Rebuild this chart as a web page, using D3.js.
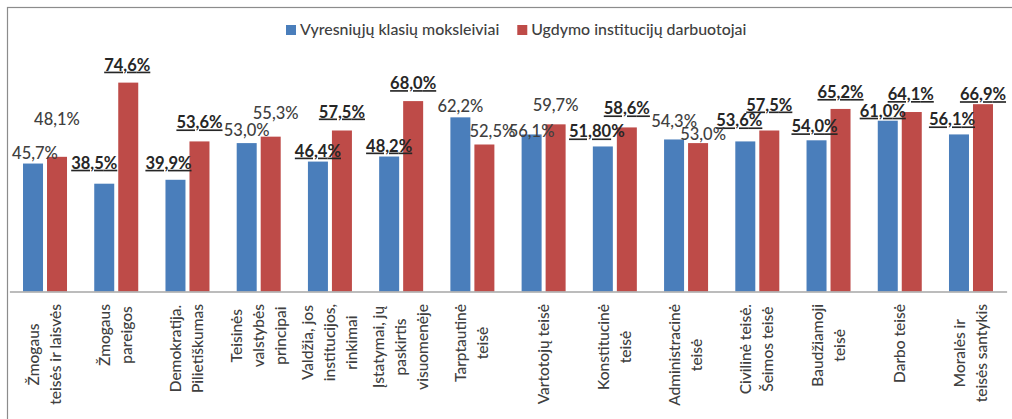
<!DOCTYPE html>
<html>
<head>
<meta charset="utf-8">
<script src="https://cdn.jsdelivr.net/npm/d3@7"></script>
<style>
  body { margin: 0; background: #fff; }
  svg { display: block; font-family: Lato, "Open Sans", sans-serif; }
</style>
</head>
<body>
<svg width="1012" height="419"></svg>
<script>
// categories (line breaks as in the original axis)
const categories = [
  "Žmogaus\nteisės ir laisvės",
  "Žmogaus\npareigos",
  "Demokratija.\nPilietiškumas",
  "Teisinės\nvalstybės\nprincipai",
  "Valdžia, jos\ninstitucijos,\nrinkimai",
  "Įstatymai, jų\npaskirtis\nvisuomenėje",
  "Tarptautinė\nteisė",
  "Vartotojų teisė",
  "Konstitucinė\nteisė",
  "Administracinė\nteisė",
  "Civilinė teisė.\nŠeimos teisė",
  "Baudžiamoji\nteisė",
  "Darbo teisė",
  "Moralės ir\nteisės santykis"
]
const seriesNames = ["Vyresniųjų klasių moksleiviai", "Ugdymo institucijų darbuotojai"]
const students = [45.7, 38.5, 39.9, 53.0, 46.4, 48.2, 62.2, 56.1, 51.8, 54.3, 53.6, 54.0, 61.0, 56.1]
const staff = [48.1, 74.6, 53.6, 55.3, 57.5, 68.0, 52.5, 59.7, 58.6, 53.0, 57.5, 65.2, 64.1, 66.9]
const studentLabels = ["45,7%", "38,5%", "39,9%", "53,0%", "46,4%", "48,2%", "62,2%", "56,1%", "51,80%", "54,3%", "53,6%", "54,0%", "61,0%", "56,1%"]
const staffLabels = ["48,1%", "74,6%", "53,6%", "55,3%", "57,5%", "68,0%", "52,5%", "59,7%", "58,6%", "53,0%", "57,5%", "65,2%", "64,1%", "66,9%"]
// categories whose labels are bold + underlined
const highlighted = [false, true, true, false, true, true, false, false, true, false, true, true, true, true]

// hand-moved data labels: [dx, baseline relative to bar top]
const studentNudge = [[2, -5], [-10, -15], [-7, -11], [0, -7], [0, -5], [0, -5], [0, -5], [0, 3], [-6, -9], [0, -12], [-6, -15], [-2, -8], [-5, -4], [-7, -9]]
const staffNudge = [[0, -32], [-1, -12], [0, -13], [5, -18], [0, -13], [0, -12], [8, -8], [0, -13], [0, -13], [5, -3], [0, -20], [0, -11], [-1, -12], [0, -4]]

const colors = ["#4A7EBB", "#BE4B48"]
const baseY = 291.5

const svg = d3.select("svg")

// outer chart frame
svg.append("rect")
  .attr("x", 7.5).attr("y", 7.5)
  .attr("width", 1100).attr("height", 500)
  .attr("fill", "none").attr("stroke", "#8c8c8c").attr("stroke-width", 1.2)

const x = d3.scaleBand()
  .domain(d3.range(categories.length))
  .range([9.4, 1006.6])

const xs = d3.scaleBand()
  .domain([0, 1])
  .range([-22, 22])
  .paddingInner(1 / 6)

const y = d3.scaleLinear()
  .domain([0, 100])
  .range([baseY, baseY - 280])

const center = i => x(i) + x.bandwidth() / 2

const seriesData = [students, staff]
const seriesLabels = [studentLabels, staffLabels]
const nudges = [studentNudge, staffNudge]

seriesData.forEach((vals, s) => {
  svg.append("g")
    .selectAll("rect")
    .data(vals)
    .join("rect")
    .attr("x", (d, i) => center(i) + xs(s))
    .attr("width", xs.bandwidth())
    .attr("y", d => y(d))
    .attr("height", d => y(0) - y(d))
    .attr("fill", colors[s])
})

// x axis line, no ticks
svg.append("g")
  .attr("transform", `translate(0,${baseY})`)
  .call(d3.axisBottom(x).tickSize(0).tickFormat(""))
  .call(g => g.select(".domain").attr("stroke", "#a6a6a6").attr("stroke-width", 1.3))

// data labels
seriesData.forEach((vals, s) => {
  const g = svg.append("g")
  vals.forEach((v, i) => {
    const [dx, dy] = nudges[s][i]
    const bold = highlighted[i]
    const label = seriesLabels[s][i]
    const t = g.append("text")
      .attr("x", center(i) + xs(s) + xs.bandwidth() / 2 + dx)
      .attr("y", y(v) + dy)
      .attr("text-anchor", "middle")
      .attr("font-size", 16.5)
      .attr("font-weight", bold ? 700 : 500)
      .attr("fill", bold ? "#262626" : "#404040")
    if (bold) {
      const num = label.replace("%", "")
      t.append("tspan").text(num).style("text-decoration", "underline")
      t.append("tspan").text("%")
        .style("text-decoration", label === "51,80%" ? "none" : "underline")
    } else {
      t.text(label)
    }
  })
})

// category labels, rotated, anchored just under the axis
const topY = 304, lineGap = 22
categories.forEach((c, i) => {
  const lines = c.split("\n")
  const g = svg.append("g")
  const texts = lines.map(ln => g.append("text")
    .attr("font-size", 15.5)
    .attr("font-weight", 500)
    .attr("fill", "#404040")
    .attr("text-anchor", "middle")
    .text(ln))
  const maxLen = d3.max(texts, t => t.node().getComputedTextLength())
  texts.forEach((t, j) => {
    const lx = center(i) + (j - (lines.length - 1) / 2) * lineGap + 5
    t.attr("transform", `translate(${lx},${topY + maxLen / 2}) rotate(-90)`)
  })
})

// legend
const legend = svg.append("g").attr("transform", "translate(286,0)")
let lx = 0
seriesNames.forEach((n, s) => {
  legend.append("rect")
    .attr("x", lx).attr("y", 25)
    .attr("width", 10).attr("height", 10)
    .attr("fill", colors[s])
  const t = legend.append("text")
    .attr("x", lx + 14).attr("y", 35)
    .attr("font-size", 15.9)
    .attr("font-weight", 500)
    .attr("fill", "#404040")
    .text(n)
  lx += 14 + t.node().getComputedTextLength() + 18
})
</script>
</body>
</html>
